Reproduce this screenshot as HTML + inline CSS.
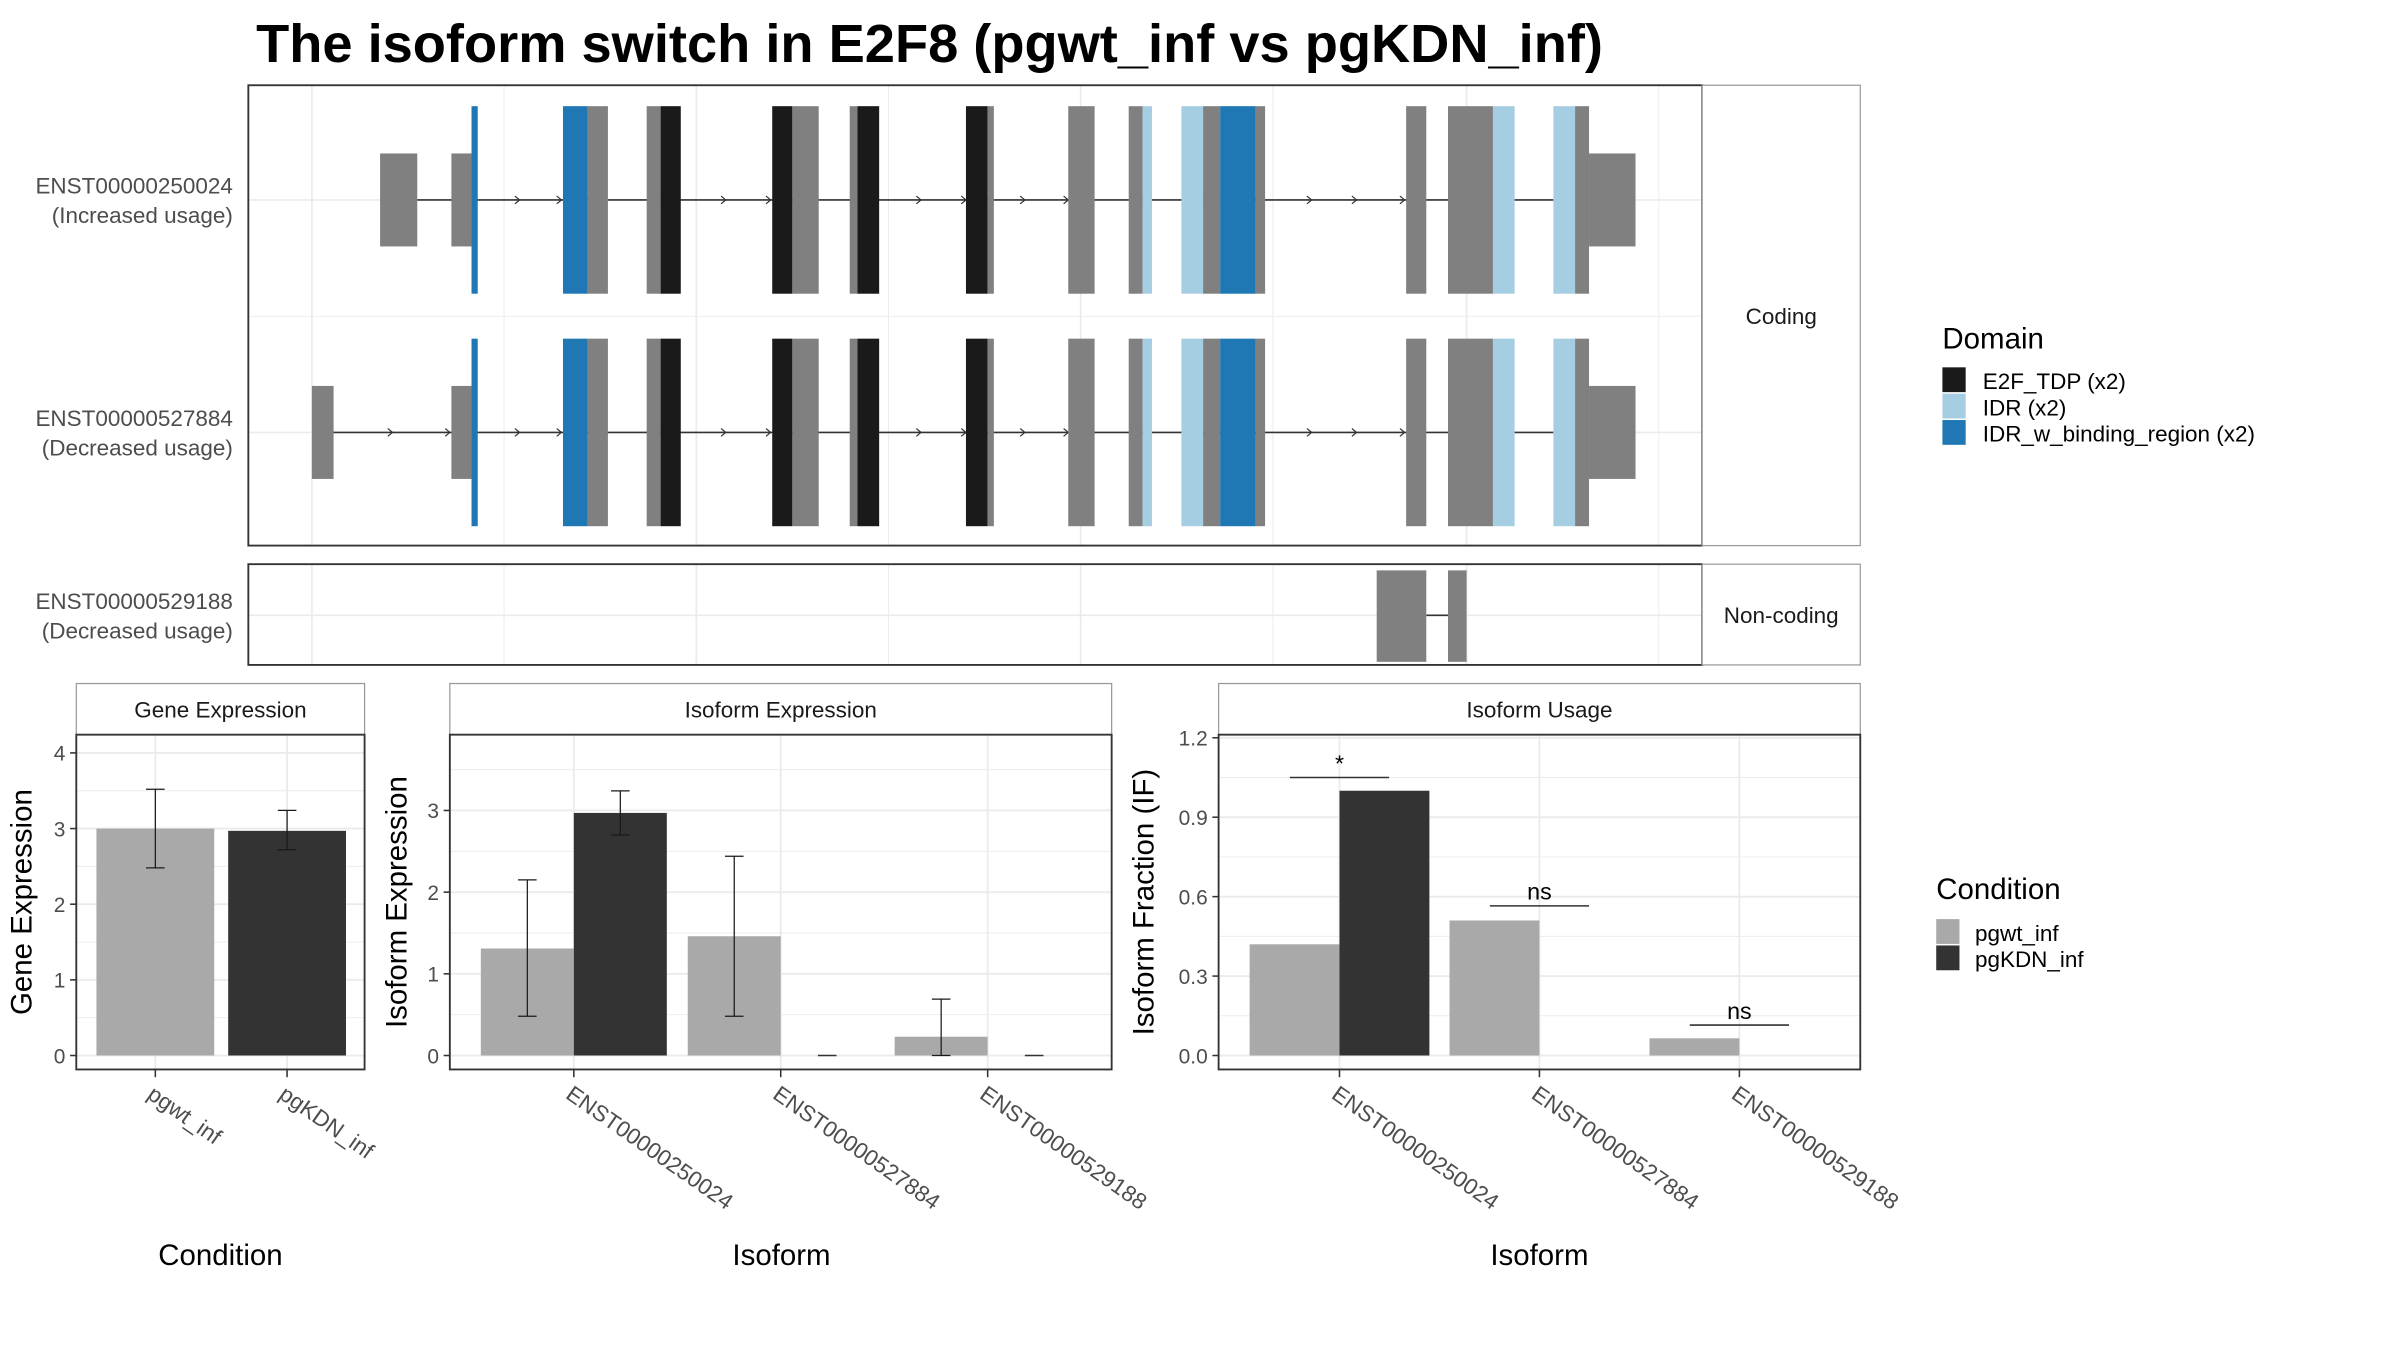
<!DOCTYPE html>
<html><head><meta charset="utf-8"><style>
html,body{margin:0;padding:0;background:#fff;}
svg{display:block;font-family:"Liberation Sans",sans-serif;}
</style></head><body>
<svg id="c" width="2400" height="1350" viewBox="0 0 1548 871" xmlns="http://www.w3.org/2000/svg">
<rect width="1548" height="871" fill="#fff"/>
<text x="165" y="40" font-size="35" font-weight="bold" fill="#000">The isoform switch in E2F8 (pgwt_inf vs pgKDN_inf)</text>
<g id="topg"></g>
<g id="bottom"></g>
</svg>
<script>
// ---- Transcript structure data (genomic positions in plot units) ----
const transcripts = ["ENST00000250024", "ENST00000527884"];
const transcriptLabels = ["(Increased usage)", "(Decreased usage)"];
// exon segments: [start, end, type] type: u=UTR(short), g=gray cds, k=E2F_TDP, l=IDR, b=IDR_w_binding
const sharedExons = [[291,304,"u"],[304,308,"b"],[363,379,"b"],[379,392,"g"],[417,426,"g"],[426,439,"k"],[498,511,"k"],[511,528,"g"],[548,553,"g"],[553,567,"k"],[623,637,"k"],[637,641,"g"],[689,706,"g"],[728,737,"g"],[737,743,"l"],[762,776,"l"],[776,787,"g"],[787,810,"b"],[810,816,"g"],[907,920,"g"],[934,963,"g"],[963,977,"l"],[1002,1016,"l"],[1016,1025,"g"],[1025,1055,"u"]];
const firstExonT1 = [245,269];
const firstExonT2 = [201,215];
const nonCodingExons = [[888,920],[934,946]];
const domainNames = ["E2F_TDP (x2)", "IDR (x2)", "IDR_w_binding_region (x2)"];

// ---- Bar chart data ----
const conditions = ["pgwt_inf", "pgKDN_inf"];
const geneValues = [3.0, 2.97];
const geneErrLow = [2.48, 2.72];
const geneErrHigh = [3.52, 3.24];
const isoforms = ["ENST00000250024", "ENST00000527884", "ENST00000529188"];
const isoExpWt = [1.31, 1.46, 0.23];
const isoExpKdn = [2.97, 0, 0];
const isoExpWtLow = [0.48, 0.48, 0.0];
const isoExpWtHigh = [2.15, 2.44, 0.69];
const isoExpKdnLow = [2.70, 0, 0];
const isoExpKdnHigh = [3.24, 0, 0];
const ifWt = [0.42, 0.51, 0.065];
const ifKdn = [1.0, 0, 0];
const sigLabels = ["*", "ns", "ns"];
const sigY = [1.05, 0.565, 0.115];
const geneTicks = [0, 1, 2, 3, 4];
const isoExpTicks = [0, 1, 2, 3];
const ifTicks = [0, 0.3, 0.6, 0.9, 1.2];
const ifTickLabels = ["0.0", "0.3", "0.6", "0.9", "1.2"];

const NS = "http://www.w3.org/2000/svg";
function mk(parent, tag, attrs, text) {
  const el = document.createElementNS(NS, tag);
  for (const k in attrs) el.setAttribute(k, attrs[k]);
  if (text !== undefined) el.textContent = text;
  parent.appendChild(el);
  return el;
}
const colors = {u:"#808080", g:"#808080", k:"#1a1a1a", l:"#a6cee3", b:"#1f78b4"};
const topG = document.getElementById("topg");
const gx = v => v; // genomic to px

let e;
e = mk(topG, "rect", {x:160, y:55, width:938, height:297, fill:"#fff"});


[201,325,449,573,697,821,946,1070].forEach((x,i) => {
  e = mk(topG, "line", {x1:x, x2:x, y1:55, y2:352, stroke:"#ebebeb", "stroke-width": i%2?0.6:1.1});
  
  
  e = mk(topG, "line", {x1:x, x2:x, y1:364, y2:429, stroke:"#ebebeb", "stroke-width": i%2?0.6:1.1});
  
  
});
[129, 279].forEach(y => {
  e = mk(topG, "line", {x1:160, x2:1098, y1:y, y2:y, stroke:"#ebebeb", "stroke-width":1.1});
  
  
});
e = mk(topG, "line", {x1:160, x2:1098, y1:204, y2:204, stroke:"#ebebeb", "stroke-width":0.6});



function drawTranscript(i, cy, first) {
  const g = mk(topG, "g", {});
  
  
  e = mk(g, "line", {x1:gx(first[1]), x2:gx(1002), y1:cy, y2:cy, stroke:"#333", "stroke-width":1});
  
  
  const arrows = i === 0 ? [335,362,468,497,594,623,661,689,846,875,906] : [253,290,335,362,468,497,594,623,661,689,846,875,906];
  arrows.forEach(a => {
    e = mk(g, "path", {d:`M${a-3},${cy-2.5} L${a},${cy} L${a-3},${cy+2.5}`, fill:"none", stroke:"#333", "stroke-width":0.8});
    
    
  });
  const all = [[first[0], first[1], "u"]].concat(sharedExons);
  all.forEach(s => {
    const h = s[2] === "u" ? 60 : 121;
    e = mk(g, "rect", {x:gx(s[0]), y:cy-h/2, width:gx(s[1])-gx(s[0]), height:h, fill:colors[s[2]]});
    
    
  });
  e = mk(topG, "text", {x:150, y:cy-4, "font-size":14.5, fill:"#4d4d4d", "text-anchor":"end"}, transcripts[i]);
  
  
  e = mk(topG, "text", {x:150, y:cy+15, "font-size":14.5, fill:"#4d4d4d", "text-anchor":"end"}, transcriptLabels[i]);
  
  
}
drawTranscript(0, 129, firstExonT1);
drawTranscript(1, 279, firstExonT2);
e = mk(topG, "rect", {x:160, y:55, width:938, height:297, fill:"none", stroke:"#333", "stroke-width":1.2});


e = mk(topG, "rect", {x:1098, y:55, width:102, height:297, fill:"#fff", stroke:"#999", "stroke-width":0.8});


e = mk(topG, "text", {x:1149, y:209, "font-size":14.5, fill:"#1a1a1a", "text-anchor":"middle"}, "Coding");



e = mk(topG, "line", {x1:160, x2:1098, y1:397, y2:397, stroke:"#ebebeb", "stroke-width":1.1});


e = mk(topG, "line", {x1:gx(nonCodingExons[0][1]), x2:gx(nonCodingExons[1][0]), y1:397, y2:397, stroke:"#333", "stroke-width":1});


nonCodingExons.forEach(s => {
  e = mk(topG, "rect", {x:gx(s[0]), y:368, width:gx(s[1])-gx(s[0]), height:59, fill:"#808080"});
  
  
});
e = mk(topG, "rect", {x:160, y:364, width:938, height:65, fill:"none", stroke:"#333", "stroke-width":1.2});


e = mk(topG, "rect", {x:1098, y:364, width:102, height:65, fill:"#fff", stroke:"#999", "stroke-width":0.8});


e = mk(topG, "text", {x:1149, y:402, "font-size":14.5, fill:"#1a1a1a", "text-anchor":"middle"}, "Non-coding");


e = mk(topG, "text", {x:150, y:393, "font-size":14.5, fill:"#4d4d4d", "text-anchor":"end"}, "ENST00000529188");


e = mk(topG, "text", {x:150, y:412, "font-size":14.5, fill:"#4d4d4d", "text-anchor":"end"}, "(Decreased usage)");



e = mk(topG, "text", {x:1253, y:225, "font-size":19, fill:"#000"}, "Domain");


const domColors = ["#1a1a1a", "#a6cee3", "#1f78b4"];
domainNames.forEach((n, i) => {
  e = mk(topG, "rect", {x:1253, y:237+i*17, width:15, height:16, fill:domColors[i]});
  
  
  e = mk(topG, "text", {x:1279, y:251+i*17, "font-size":14.5, fill:"#000"}, n);
  
  
});

// ---- Bottom bar charts ----
const bot = document.getElementById("bottom");
const PT = 474, PB = 690, Y0 = 681;
function panel(x0, x1, title, ymax, ticks, tickLabels, yTitle, yTitleX, name) {
  const sy = v => Y0 - v / ymax * (Y0 - 476);
  e = mk(bot, "rect", {x:x0, y:441, width:x1-x0, height:33, fill:"#fff", stroke:"#999", "stroke-width":0.8});
  
  
  e = mk(bot, "text", {x:(x0+x1)/2, y:463, "font-size":14.5, fill:"#1a1a1a", "text-anchor":"middle"}, title);
  
  
  for (let i = 0; i < ticks.length; i++) {
    const t = ticks[i];
    if (i > 0) {
      const m = (ticks[i] + ticks[i-1]) / 2;
      e = mk(bot, "line", {x1:x0, x2:x1, y1:sy(m), y2:sy(m), stroke:"#ebebeb", "stroke-width":0.6});
      
      
    }
    e = mk(bot, "line", {x1:x0, x2:x1, y1:sy(t), y2:sy(t), stroke:"#ebebeb", "stroke-width":1.2});
    
    
    e = mk(bot, "line", {x1:x0-4, x2:x0, y1:sy(t), y2:sy(t), stroke:"#333", "stroke-width":1});
    
    
    e = mk(bot, "text", {x:x0-7, y:sy(t)+5, "font-size":13.5, fill:"#4d4d4d", "text-anchor":"end"}, tickLabels[i]);
    
    
  }
  const last = ticks[ticks.length-1], step = ticks[1]-ticks[0];
  if (sy(last + step/2) > PT) {
    e = mk(bot, "line", {x1:x0, x2:x1, y1:sy(last+step/2), y2:sy(last+step/2), stroke:"#ebebeb", "stroke-width":0.6});
    
    
  }
  e = mk(bot, "text", {x:yTitleX, y:582, "font-size":19, fill:"#000", "text-anchor":"middle", transform:`rotate(-90 ${yTitleX} 582)`}, yTitle);
  
  
  return sy;
}
function frame(x0, x1, name) {
  e = mk(bot, "rect", {x:x0, y:PT, width:x1-x0, height:PB-PT, fill:"none", stroke:"#333", "stroke-width":1.2});
  
  
}
function xtick(x, label, rot, name) {
  e = mk(bot, "line", {x1:x, x2:x, y1:PB, y2:PB+5, stroke:"#333", "stroke-width":1});
  
  
  e = mk(bot, "text", {x:x-6, y:PB+18, "font-size":14.5, fill:"#4d4d4d", transform:`rotate(${rot} ${x-6} ${PB+18})`}, label);
  
  
}
function vgrid(x) {
  e = mk(bot, "line", {x1:x, x2:x, y1:PT, y2:PB, stroke:"#ebebeb", "stroke-width":1.2});
  
  
}
function bar(x, w, v, sy, fill) {
  e = mk(bot, "rect", {x:x, y:sy(v), width:w, height:Math.max(0, sy(0)-sy(v)), fill:fill});
  
  
  if (v === 0) {
    e = mk(bot, "line", {x1:x+w/2-6, x2:x+w/2+6, y1:sy(0), y2:sy(0), stroke:"#333", "stroke-width":1});
    
    
  }
}
function err(x, lo, hi, sy) {
  if (hi - lo < 1e-9) return;
  e = mk(bot, "path", {d:`M${x-6},${sy(hi)} H${x+6} M${x},${sy(hi)} V${sy(lo)} M${x-6},${sy(lo)} H${x+6}`, stroke:"#1a1a1a", "stroke-width":0.8, fill:"none"});
  
  
}

{
  const x0 = 49, x1 = 235;
  const sy = panel(x0, x1, "Gene Expression", 4.2, geneTicks, geneTicks.map(String), "Gene Expression", 20, "gene-expression");
  const cx = i => 100 + i * 85;
  conditions.forEach((c, i) => vgrid(cx(i)));
  const fills = ["#a9a9a9", "#333333"];
  conditions.forEach((c, i) => {
    bar(cx(i) - 38, 76, geneValues[i], sy, fills[i]);
    err(cx(i), geneErrLow[i], geneErrHigh[i], sy);
    xtick(cx(i), c, 35, "gene-expression");
  });
  frame(x0, x1, "gene-expression");
  e = mk(bot, "text", {x:142, y:816, "font-size":19, fill:"#000", "text-anchor":"middle"}, "Condition");
  
  
}
{
  const x0 = 290, x1 = 717;
  const sy = panel(x0, x1, "Isoform Expression", 3.89, isoExpTicks, isoExpTicks.map(String), "Isoform Expression", 262, "isoform-expression");
  const cx = i => 370 + i * 133.5;
  isoforms.forEach((c, i) => vgrid(cx(i)));
  isoforms.forEach((c, i) => {
    bar(cx(i) - 60, 60, isoExpWt[i], sy, "#a9a9a9");
    bar(cx(i), 60, isoExpKdn[i], sy, "#333333");
    err(cx(i) - 30, isoExpWtLow[i], isoExpWtHigh[i], sy);
    err(cx(i) + 30, isoExpKdnLow[i], isoExpKdnHigh[i], sy);
    xtick(cx(i), c, 35, "isoform-expression");
  });
  frame(x0, x1, "isoform-expression");
  e = mk(bot, "text", {x:504, y:816, "font-size":19, fill:"#000", "text-anchor":"middle"}, "Isoform");
  
  
}
{
  const x0 = 786, x1 = 1200;
  const sy = panel(x0, x1, "Isoform Usage", 1.2, ifTicks, ifTickLabels, "Isoform Fraction (IF)", 744, "isoform-usage");
  const cx = i => 864 + i * 129;
  isoforms.forEach((c, i) => vgrid(cx(i)));
  isoforms.forEach((c, i) => {
    bar(cx(i) - 58, 58, ifWt[i], sy, "#a9a9a9");
    if (ifKdn[i] > 0) bar(cx(i), 58, ifKdn[i], sy, "#333333");
    e = mk(bot, "line", {x1:cx(i)-32, x2:cx(i)+32, y1:sy(sigY[i]), y2:sy(sigY[i]), stroke:"#333", "stroke-width":1});
    
    
    e = mk(bot, "text", {x:cx(i), y:sy(sigY[i]) - 4, "font-size":15, fill:"#000", "text-anchor":"middle"}, sigLabels[i]);
    
    
    xtick(cx(i), c, 35, "isoform-usage");
  });
  frame(x0, x1, "isoform-usage");
  e = mk(bot, "text", {x:993, y:816, "font-size":19, fill:"#000", "text-anchor":"middle"}, "Isoform");
  
  
}
e = mk(bot, "text", {x:1249, y:580, "font-size":19, fill:"#000"}, "Condition");


const condFills = ["#a9a9a9", "#333333"];
conditions.forEach((c, i) => {
  e = mk(bot, "rect", {x:1249, y:593+i*17, width:15, height:16, fill:condFills[i]});
  
  
  e = mk(bot, "text", {x:1274, y:607+i*17, "font-size":14.5, fill:"#000"}, c);
  
  
});
</script>
</body></html>
